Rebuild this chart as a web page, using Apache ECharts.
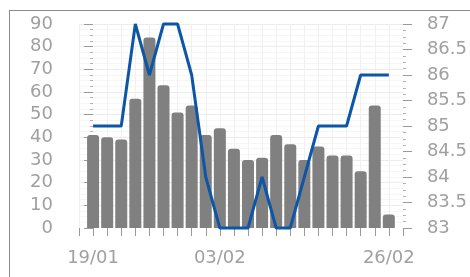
<!DOCTYPE html>
<html>
<head>
<meta charset="utf-8">
<script src="https://cdn.jsdelivr.net/npm/echarts@6/dist/echarts.min.js"></script>
<style>
  html, body { margin: 0; padding: 0; background: #fff; overflow: hidden; }
  #wrap { position: relative; width: 470px; height: 277px; overflow: hidden; }
  #chart { width: 470px; height: 277px; }
  #frame { position: absolute; left: 9px; top: 10px; width: 600px; height: 400px;
           border-left: 1.5px solid #8a8a8a; border-top: 1.5px solid #8a8a8a; pointer-events: none; }
</style>
</head>
<body>
<div id="wrap">
  <div id="chart"></div>
  <div id="frame"></div>
</div>
<script>
// bar values (left axis) and line values (right axis), one per day
var barValues = [41, 40, 39, 57, 84, 63, 51, 54, 41, 44, 35, 30, 31, 41, 37, 30, 36, 32, 32, 25, 54, 6];
var lineValues = [85, 85, 85, 87, 86, 87, 87, 86, 84, 83, 83, 83, 84, 83, 83, 84, 85, 85, 85, 86, 86, 86];
// only three dates are printed under the axis
var labelIndex = [0, 9, 21];
var labelText = ['19/01', '03/02', '26/02'];

var textColor = '#a0a0a0';
var tickColor = '#999999';

var barData = barValues.map(function (v, i) { return [i, v]; });
var lineData = lineValues.map(function (v, i) { return [i, v]; });

var chart = echarts.init(document.getElementById('chart'));
chart.setOption({
  animation: false,
  textStyle: { fontFamily: 'DejaVu Sans' },
  grid: { left: 79, right: 64, top: 24, bottom: 49 },
  xAxis: {
    type: 'value',
    min: -1,
    max: 22,
    interval: 1,
    // white axis line: ticks only render with the line on
    axisLine: { show: true, lineStyle: { color: '#ffffff' } },
    axisTick: { show: true, length: 8, lineStyle: { color: tickColor } },
    splitLine: { show: true, lineStyle: { color: '#f0f0f0' } },
    axisLabel: {
      color: textColor, fontSize: 18, margin: 21,
      formatter: function (v) {
        var k = labelIndex.indexOf(v);
        return k >= 0 ? labelText[k] : '';
      }
    }
  },
  yAxis: [{
    type: 'value',
    min: 0,
    max: 90,
    interval: 10,
    axisLine: { show: true, lineStyle: { color: '#ffffff' } },
    axisTick: { show: true, length: 9, lineStyle: { color: tickColor } },
    minorTick: { show: true, splitNumber: 4, length: 3, lineStyle: { color: '#b0b0b0' } },
    splitLine: { show: true, lineStyle: { color: '#ececec' } },
    minorSplitLine: { show: true, lineStyle: { color: '#f6f6f6' } },
    axisLabel: { color: textColor, fontSize: 18, margin: 26 }
  }, {
    type: 'value',
    min: 83,
    max: 87,
    interval: 0.5,
    axisLine: { show: true, lineStyle: { color: '#ffffff' } },
    axisTick: { show: true, length: 9, lineStyle: { color: tickColor } },
    minorTick: { show: true, splitNumber: 4, length: 3, lineStyle: { color: '#b0b0b0' } },
    splitLine: { show: false },
    axisLabel: { color: textColor, fontSize: 18, margin: 24 }
  }],
  series: [{
    type: 'bar', yAxisIndex: 0, barWidth: 12,
    itemStyle: { color: '#808080', borderRadius: [3, 3, 0, 0] },
    data: barData
  }, {
    type: 'line', yAxisIndex: 1, symbol: 'none', clip: false,
    lineStyle: { color: '#0d56a6', width: 3 },
    data: lineData, z: 3
  }]
});
</script>
</body>
</html>
